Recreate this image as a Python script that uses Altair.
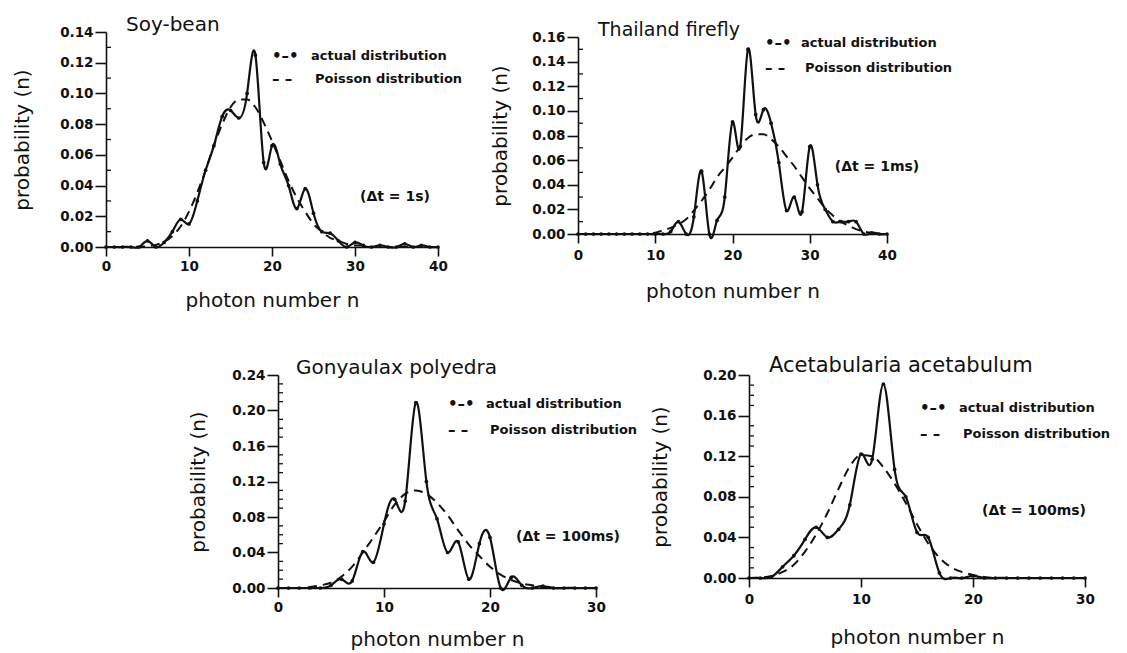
import altair as alt
import pandas as pd

# ---------------- data ----------------
soy_n = list(range(0, 41))
soy_actual = [0, 0, 0, 0, 0, 0.004, 0.0, 0.003, 0.010, 0.018,
              0.015, 0.030, 0.050, 0.066, 0.085, 0.089, 0.084, 0.100, 0.125, 0.055,
              0.066, 0.054, 0.040, 0.025, 0.038, 0.022, 0.010, 0.009, 0.004, 0.0,
              0.003, 0.001, 0.0, 0.001, 0.0, 0.0, 0.002, 0.0, 0.001, 0.0, 0.0]
soy_poisson = [0, 0, 0, 0, 0.0002, 0.0005, 0.0014, 0.0034, 0.0072, 0.0135,
               0.023, 0.0355, 0.050, 0.066, 0.080, 0.091, 0.096, 0.096, 0.091, 0.081,
               0.069, 0.056, 0.043, 0.032, 0.023, 0.015, 0.010, 0.006, 0.004, 0.002,
               0.001, 0.001, 0, 0, 0, 0, 0, 0, 0, 0, 0]

fly_n = list(range(0, 41))
fly_actual = [0, 0, 0, 0, 0, 0, 0, 0, 0, 0,
              0, 0.0, 0.002, 0.010, 0.0, 0.014, 0.051, 0.0, 0.011, 0.030,
              0.091, 0.071, 0.150, 0.097, 0.101, 0.090, 0.058, 0.019, 0.030, 0.018,
              0.071, 0.040, 0.020, 0.010, 0.010, 0.010, 0.010, 0.0, 0.001, 0.0, 0.0]
fly_poisson = [0, 0, 0, 0, 0, 0, 0, 0, 0, 0,
               0.001, 0.003, 0.005, 0.008, 0.012, 0.019, 0.027, 0.036, 0.046, 0.054,
               0.062, 0.071, 0.078, 0.081, 0.081, 0.077, 0.071, 0.063, 0.055, 0.046,
               0.037, 0.029, 0.021, 0.015, 0.010, 0.007, 0.004, 0.002, 0.001, 0.0, 0.0]

gon_n = list(range(0, 31))
gon_actual = [0, 0, 0, 0, 0.0, 0.003, 0.010, 0.008, 0.041, 0.029,
              0.072, 0.100, 0.098, 0.209, 0.120, 0.078, 0.040, 0.052, 0.010, 0.050,
              0.057, 0.0, 0.012, 0.003, 0.0, 0.002, 0, 0, 0, 0, 0]
gon_poisson = [0, 0, 0, 0.001, 0.003, 0.006, 0.013, 0.024, 0.040, 0.057,
               0.075, 0.094, 0.106, 0.110, 0.106, 0.096, 0.082, 0.065, 0.049, 0.036,
               0.024, 0.015, 0.009, 0.005, 0.003, 0.001, 0, 0, 0, 0, 0]

ace_n = list(range(0, 31))
ace_actual = [0, 0.0, 0.001, 0.011, 0.022, 0.038, 0.050, 0.040, 0.048, 0.072,
              0.122, 0.117, 0.191, 0.107, 0.080, 0.045, 0.040, 0.005, 0.0, 0.0,
              0.002, 0.0, 0, 0, 0, 0, 0, 0, 0, 0, 0]
ace_poisson = [0, 0.0005, 0.002, 0.006, 0.013, 0.026, 0.043, 0.064, 0.088, 0.110,
               0.121, 0.120, 0.109, 0.093, 0.074, 0.053, 0.034, 0.020, 0.011, 0.006,
               0.003, 0.001, 0, 0, 0, 0, 0, 0, 0, 0, 0]

soy_yticks = [0.00, 0.02, 0.04, 0.06, 0.08, 0.10, 0.12, 0.14]
fly_yticks = [0.00, 0.02, 0.04, 0.06, 0.08, 0.10, 0.12, 0.14, 0.16]
gon_yticks = [0.00, 0.04, 0.08, 0.12, 0.16, 0.20, 0.24]
ace_yticks = [0.00, 0.04, 0.08, 0.12, 0.16, 0.20]
xticks40 = [0, 10, 20, 30, 40]
xticks30 = [0, 10, 20, 30]

LEG_ACTUAL = "actual distribution"
LEG_POISSON = "Poisson distribution"
X_TITLE = "photon number n"
Y_TITLE = "probability (n)"

FONT = "DejaVu Sans"
INK = "#111111"


def minor_values(majors, top):
    k_top = int(round(top * 100))
    maj = {int(round(m * 100)) for m in majors}
    return [k / 100 for k in range(1, k_top) if k not in maj]


def text_layer(txt, x, y, size, weight="normal", align="left"):
    return alt.Chart(pd.DataFrame({"t": [txt]})).mark_text(
        align=align, baseline="middle", font=FONT, fontSize=size,
        fontWeight=weight, color=INK
    ).encode(text="t:N", x=alt.value(x), y=alt.value(y))


def spacer(w, h):
    return alt.Chart(pd.DataFrame({"z": [0]})).mark_point(opacity=0, size=1).encode(
        x=alt.X("z:Q", axis=None), y=alt.Y("z:Q", axis=None)
    ).properties(width=w, height=h)


def panel(n, actual, poisson, xmax, xticks, ymax, yticks, w, h, title, title_size,
          title_xy, legend_x, legend_y, dt, dt_xy, ytp, xlp, xtp):
    xenc = alt.X("n:Q", scale=alt.Scale(domain=[0, xmax], nice=False, zero=False),
                 axis=alt.Axis(values=xticks, title=X_TITLE, tickSize=9,
                               labelPadding=xlp, titlePadding=xtp, labelFlush=False,
                               format="d"))
    yenc = alt.Y("p:Q", scale=alt.Scale(domain=[0, ymax], nice=False, zero=False),
                 axis=alt.Axis(values=yticks, title=Y_TITLE, tickSize=11,
                               labelPadding=2, titlePadding=ytp, format=".2f"))
    df_a = pd.DataFrame({"n": n, "p": actual})
    df_p = pd.DataFrame({"n": n, "p": poisson})
    df_m = pd.DataFrame({"p": minor_values(yticks, ymax)})

    pois = alt.Chart(df_p).mark_line(
        color=INK, strokeWidth=2, strokeDash=[9, 6], interpolate="monotone"
    ).encode(x=xenc, y=yenc)
    act = alt.Chart(df_a).mark_line(
        color=INK, strokeWidth=2.2, interpolate="natural"
    ).encode(x=xenc, y=yenc)
    dots = alt.Chart(df_a).mark_circle(size=14, color=INK, opacity=1).encode(x=xenc, y=yenc)
    minor = alt.Chart(df_m).mark_rule(color=INK, strokeWidth=1.3).encode(
        y=yenc, x=alt.value(0), x2=alt.value(5))

    lx_m, lx_t = legend_x
    ly1, ly2 = legend_y
    layers = [
        pois, act, dots, minor,
        text_layer(title, title_xy[0], title_xy[1], title_size),
        text_layer("•–•", lx_m, ly1, 15, "bold"),
        text_layer(LEG_ACTUAL, lx_t, ly1, 13, "bold"),
        text_layer("–  –", lx_m, ly2, 15, "bold"),
        text_layer(LEG_POISSON, lx_t + 4, ly2, 13, "bold"),
        text_layer(dt, dt_xy[0], dt_xy[1], 14, "bold", "center"),
    ]
    return alt.layer(*layers).properties(width=w, height=h)


p1 = panel(soy_n, soy_actual, soy_poisson, 40, xticks40, 0.14, soy_yticks, 332, 215,
           "Soy-bean", 20, (20, -7), (166, 205), (24, 47), "(Δt = 1s)", (289, 165),
           27, 3, 18)
p2 = panel(fly_n, fly_actual, fly_poisson, 40, xticks40, 0.16, fly_yticks, 309, 197,
           "Thailand firefly", 19, (20, -7), (187, 223), (6, 31), "(Δt = 1ms)", (299, 130),
           21, 5, 20)
p3 = panel(gon_n, gon_actual, gon_poisson, 30, xticks30, 0.24, gon_yticks, 318, 213,
           "Gonyaulax polyedra", 20, (18, -7), (170, 208), (29, 55), "(Δt = 100ms)", (290, 162),
           23, 3, 16)
p4 = panel(ace_n, ace_actual, ace_poisson, 30, xticks30, 0.20, ace_yticks, 336, 203,
           "Acetabularia acetabulum", 21, (20, -9), (171, 210), (33, 59), "(Δt = 100ms)", (285, 136),
           32, 5, 22)

top = alt.hconcat(p1, alt.vconcat(spacer(309, 1), p2, spacing=4, bounds="flush"),
                  spacing=140, bounds="flush")
bottom = alt.hconcat(spacer(19, 1), p3, p4, spacing=153, bounds="flush")

chart = alt.vconcat(top, bottom, spacing=44).properties(
    padding={"left": 4, "top": 7, "right": 0, "bottom": 0}
).configure_view(stroke=None).configure_axis(
    grid=False, domainColor=INK, tickColor=INK, labelColor=INK, titleColor=INK,
    domainWidth=1.6, tickWidth=1.6, labelFont=FONT, titleFont=FONT,
    labelFontSize=13.5, labelFontWeight="bold", titleFontSize=20,
    titleFontWeight="normal"
)

chart.save("out.html", embed_options={"renderer": "svg", "actions": False})
